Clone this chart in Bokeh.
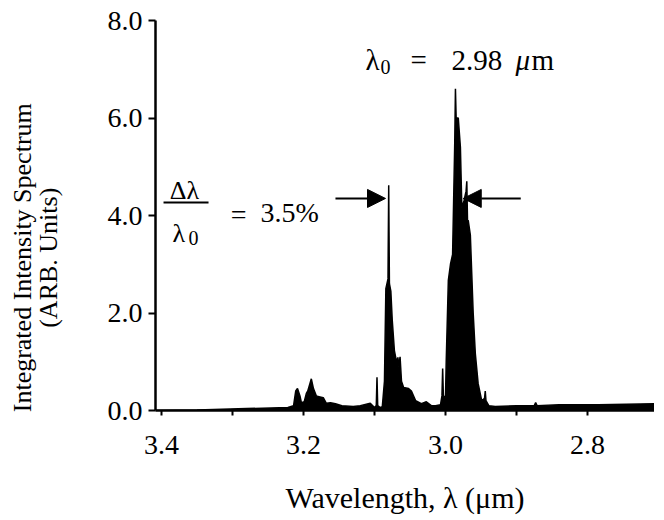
import math
from bokeh.plotting import figure
from bokeh.models import (Range1d, FixedTicker, NumeralTickFormatter, Label, Arrow,
                          NormalHead, LinearAxis)
from bokeh.embed import file_html
from bokeh.resources import INLINE

# ---- data ----
wavelength = [3.4085, 3.35, 3.28, 3.222, 3.214, 3.211, 3.2085, 3.205, 3.203, 3.199,
              3.196, 3.194, 3.191, 3.189, 3.186, 3.182, 3.177, 3.172, 3.168, 3.162,
              3.155, 3.146, 3.130, 3.120, 3.106, 3.100, 3.0975, 3.0965, 3.0955, 3.092,
              3.089, 3.086, 3.084, 3.081, 3.080, 3.079, 3.077, 3.075, 3.072, 3.069,
              3.067, 3.066, 3.064, 3.062, 3.059, 3.052, 3.048, 3.042, 3.034, 3.027,
              3.020, 3.014, 3.007, 3.005, 3.004, 3.003, 3.000, 2.999, 2.996, 2.993,
              2.990, 2.987, 2.986, 2.985, 2.982, 2.979, 2.977, 2.974, 2.971, 2.970,
              2.969, 2.968, 2.965, 2.963, 2.961, 2.958, 2.954, 2.949, 2.945, 2.944,
              2.943, 2.939, 2.930, 2.900, 2.875, 2.873, 2.871, 2.840, 2.785, 2.706]
intensity = [0.00, 0.01, 0.04, 0.06, 0.10, 0.40, 0.45, 0.30, 0.16, 0.18,
             0.35, 0.40, 0.55, 0.65, 0.45, 0.30, 0.28, 0.26, 0.15, 0.16,
             0.14, 0.10, 0.08, 0.10, 0.15, 0.06, 0.10, 0.68, 0.10, 0.06,
             0.08, 0.60, 2.50, 2.70, 4.62, 2.60, 2.45, 1.85, 1.23, 1.00,
             1.09, 0.90, 1.10, 0.60, 0.47, 0.45, 0.40, 0.20, 0.14, 0.18,
             0.10, 0.10, 0.12, 0.30, 0.86, 0.30, 0.27, 1.00, 2.67, 3.00,
             3.20, 5.48, 6.60, 6.00, 6.00, 5.40, 4.16, 4.30, 4.50, 4.70,
             3.90, 3.90, 3.60, 2.80, 2.00, 1.17, 0.55, 0.20, 0.25, 0.40,
             0.20, 0.10, 0.08, 0.10, 0.10, 0.16, 0.10, 0.12, 0.12, 0.14]

x_ticks = [3.4, 3.2, 3.0, 2.8]
x_minor = [3.3, 3.1, 2.9]
y_ticks = [0.0, 2.0, 4.0, 6.0, 8.0]

FONT = "Liberation Serif, serif"
NBSP = "\u00a0"

p = figure(width=654, height=514, frame_width=499, frame_height=390,
           min_border_left=155, min_border_right=0, min_border_top=20,
           min_border_bottom=104, output_backend="svg", toolbar_location=None,
           x_range=Range1d(3.4085, 2.7056), y_range=Range1d(0.0, 8.0))
p.outline_line_color = None
p.xgrid.visible = False
p.ygrid.visible = False
p.background_fill_color = "white"
p.border_fill_color = "white"

# spectrum
p.varea(x=wavelength, y1=0, y2=intensity, fill_color="black")
p.line(wavelength, intensity, line_color="black", line_width=1.5)

# axes
for ax in (p.xaxis[0], p.yaxis[0]):
    ax.axis_line_width = 2.5
    ax.axis_line_color = "black"
    ax.major_tick_line_color = "black"
    ax.major_tick_line_width = 2
    ax.major_tick_in = 0
    ax.major_label_text_font = FONT
    ax.major_label_text_font_size = "28px"
    ax.major_label_text_color = "black"
    ax.axis_label_text_font = FONT
    ax.axis_label_text_font_style = "normal"
    ax.axis_label_text_color = "black"
    ax.formatter = NumeralTickFormatter(format="0.0")

p.xaxis.ticker = FixedTicker(ticks=x_ticks, minor_ticks=x_minor)
p.xaxis.major_tick_out = 5
p.xaxis.minor_tick_out = 5
p.xaxis.minor_tick_in = 0
p.xaxis.minor_tick_line_width = 2
p.xaxis.minor_tick_line_color = "black"
p.xaxis.major_label_standoff = 20
p.xaxis.axis_label = "Wavelength, λ (μm)"
p.xaxis.axis_label_text_font_size = "30px"
p.xaxis.axis_label_standoff = 24

p.yaxis.ticker = FixedTicker(ticks=y_ticks)
p.yaxis.minor_tick_line_color = None
p.yaxis.major_tick_out = 7
p.yaxis.major_label_standoff = 6
p.yaxis.axis_label = "(ARB. Units)" + NBSP * 13
p.yaxis.axis_label_text_font_size = "26px"
p.yaxis.axis_label_standoff = 42

# outer y title line
outer = LinearAxis(ticker=FixedTicker(ticks=[]), axis_line_color=None,
                   major_tick_line_color=None, minor_tick_line_color=None,
                   axis_label="Integrated Intensity Spectrum" + NBSP * 13,
                   axis_label_text_font=FONT, axis_label_text_font_size="26px",
                   axis_label_text_font_style="normal", axis_label_text_color="black",
                   axis_label_standoff=-6)
p.add_layout(outer, "left")


def lab(x, y, t, size="28px", align="left", style="normal", baseline="alphabetic"):
    p.add_layout(Label(x=x, y=y, text=t, text_align=align, text_baseline=baseline,
                       text_font=FONT, text_font_size=size, text_color="black",
                       text_font_style=style))


# lambda_0 annotation
lab(3.1127, 7.18, "λ", size="29px")
lab(3.0915, 7.04, "0", size="20px")
lab(3.0493, 7.18, "=", size="29px")
lab(2.9915, 7.18, "2.98", size="29px")
lab(2.9014, 7.18, "μ", size="29px", style="italic")
lab(2.8790, 7.18, "m", size="29px")

# delta lambda / lambda_0 fraction
lab(3.3676, 4.51, "Δλ", size="26px", align="center")
p.segment(x0=[3.3972], y0=[4.267], x1=[3.3338], y1=[4.267], line_color="black", line_width=2)
lab(3.3845, 3.63, "λ", size="26px")
lab(3.3620, 3.53, "0", size="20px")
lab(3.2915, 4.02, "=", align="center")
lab(3.2606, 4.06, "3.5%")

# arrows
p.add_layout(Arrow(end=NormalHead(size=18, fill_color="black", line_color="black"),
                   x_start=3.155, y_start=4.35, x_end=3.0845, y_end=4.35,
                   line_color="black", line_width=2))
p.add_layout(Arrow(end=NormalHead(size=18, fill_color="black", line_color="black"),
                   x_start=2.894, y_start=4.35, x_end=2.975, y_end=4.35,
                   line_color="black", line_width=2))

open("out.html", "w").write(file_html(p, INLINE))
